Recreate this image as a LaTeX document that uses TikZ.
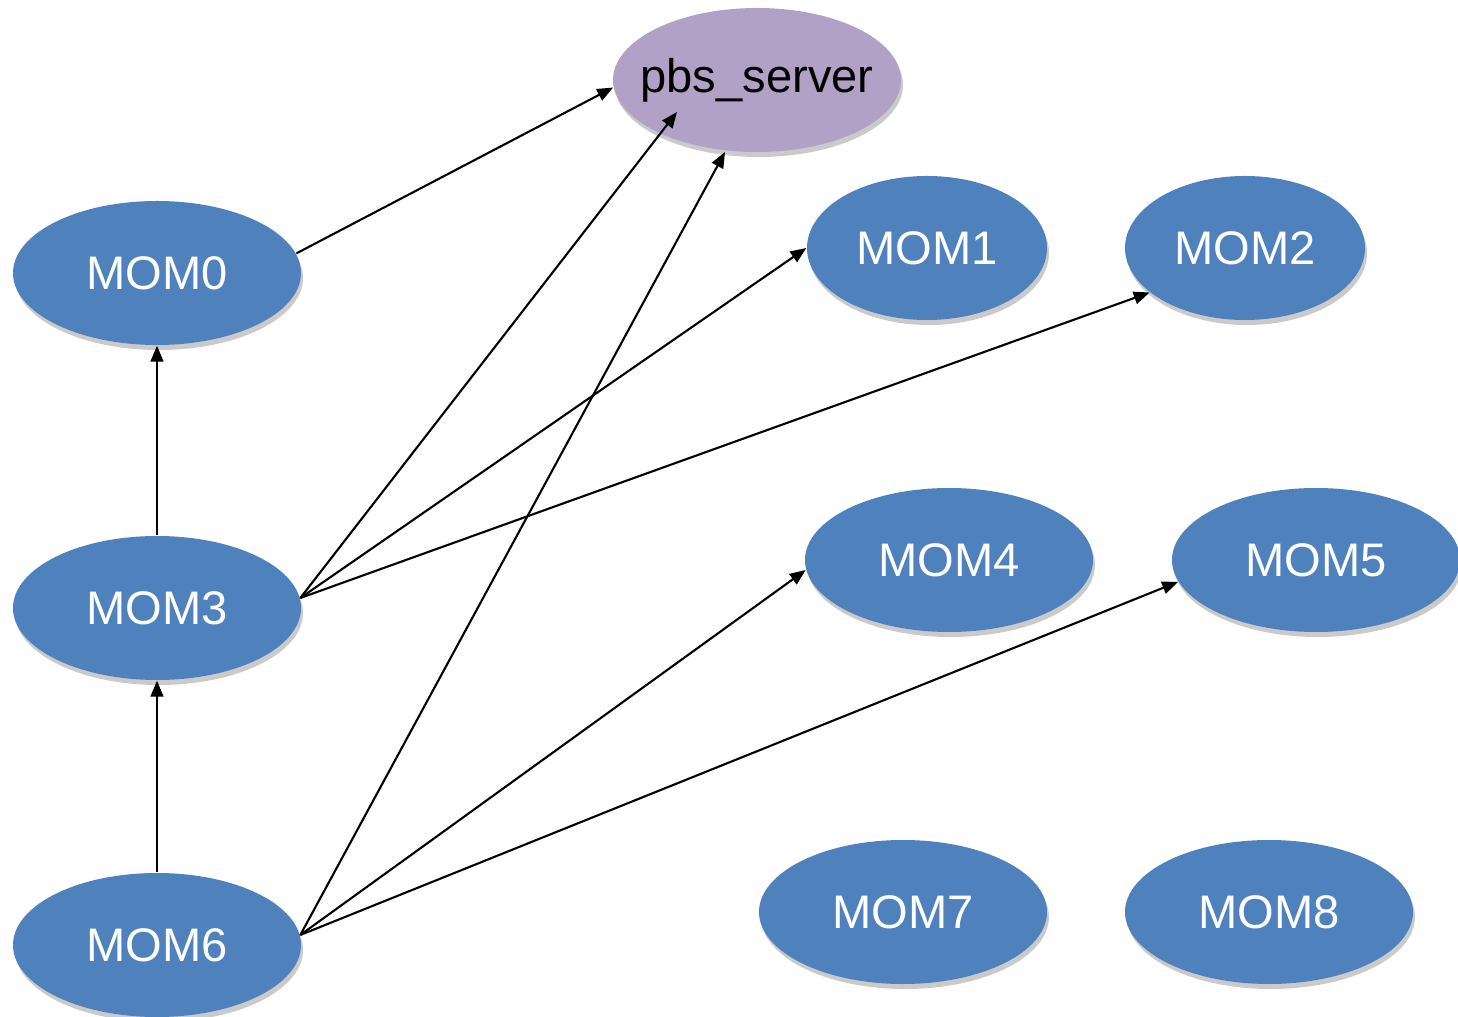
\documentclass[tikz,border=0pt]{standalone}
\usepackage{fontspec}
\setmainfont{Liberation Sans}
\usepackage{tikz}
\usetikzlibrary{shapes.geometric,shadows,arrows.meta,calc}
\definecolor{momblue}{HTML}{4F81BD}
\definecolor{serverlilac}{HTML}{B2A1C7}

\begin{document}
\begin{tikzpicture}[
  mom/.style={ellipse, fill=momblue, text=white, inner sep=0pt,
    minimum width=2.88cm, minimum height=1.44cm,
    font=\fontsize{13.4}{16}\selectfont,
    drop shadow={shadow xshift=0.02cm, shadow yshift=-0.05cm, opacity=0.35, fill=black!60}},
  link/.style={-{Triangle[length=4.5pt,width=3.6pt]}, line width=0.6pt}]
\useasboundingbox (0,0) rectangle (14.58,-10.17);
\node[mom, fill=serverlilac, text=black] (pbs) at (7.57,-0.80) {\makebox[0pt]{pbs\_server}};
\node[mom] (mom0) at (1.57,-2.73) {MOM0};
\node[mom, minimum width=2.40cm] (mom1) at (9.27,-2.48) {MOM1};
\node[mom, minimum width=2.40cm] (mom2) at (12.45,-2.48) {MOM2};
\node[mom] (mom3) at (1.57,-6.08) {MOM3};
\node[mom] (mom4) at (9.49,-5.60) {MOM4};
\node[mom] (mom5) at (13.16,-5.60) {MOM5};
\node[mom] (mom6) at (1.57,-9.45) {MOM6};
\node[mom] (mom7) at (9.03,-9.12) {MOM7};
\node[mom] (mom8) at (12.69,-9.12) {MOM8};
\coordinate (pbs3) at ($(pbs.center)+(-0.80,-0.32)$);
\coordinate (pbs6) at ($(pbs.center)+(-0.32,-0.72)$);
\draw[link] (mom0.8) -- (pbs.183);
\draw[link] (mom3.north) -- (mom0.south);
\draw[link] (mom6.north) -- (mom3.south);
\draw[link] (mom3.4) -- (pbs3);
\draw[link] (mom3.4) -- (mom1.west);
\draw[link] (mom3.4) -- (mom2.205);
\draw[link] (mom6.4) -- (pbs6);
\draw[link] (mom6.4) -- (mom4.184);
\draw[link] (mom6.4) -- (mom5.189);
\end{tikzpicture}
\end{document}
